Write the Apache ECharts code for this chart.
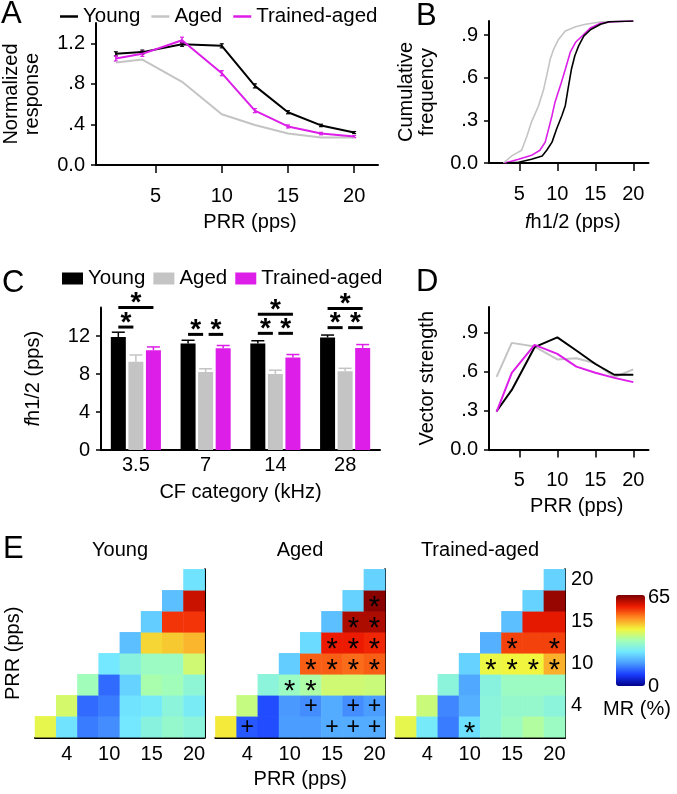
<!DOCTYPE html>
<html><head><meta charset="utf-8">
<script src="https://cdn.jsdelivr.net/npm/echarts@6/dist/echarts.min.js"></script>
<style>html,body{margin:0;padding:0;background:#fff}#c{width:677px;height:794px}</style>
</head><body><div id="c"></div><script>
// ---------------- DATA ----------------
const PRR = [2, 4, 7, 10, 12.5, 15, 17.5, 20];
const PRR_LABELS = ['2', '4', '7', '10', '12.5', '15', '17.5', '20'];
const PRR_TICKS = [5, 10, 15, 20];
const HM_TICKS = ['4', '10', '15', '20'];
const GROUPS = ['Young', 'Aged', 'Trained-aged'];

// Panel A: normalized response
const youngA   = [1.096, 1.113, 1.19, 1.175, 0.78, 0.52, 0.39, 0.32];
const agedA    = [1.01, 1.04, 0.82, 0.50, 0.395, 0.31, 0.27, 0.27];
const trainedA = [1.05, 1.096, 1.23, 0.905, 0.536, 0.38, 0.31, 0.28];
const youngErrA   = [0.02, 0.02, 0.02, 0.02, 0.02, 0.015, 0.012, 0.01];
const trainedErrA = [0.025, 0.025, 0.03, 0.025, 0.02, 0.015, 0.012, 0.01];
const A_YTICKS = [0, 0.4, 0.8, 1.2];

// Panel B: cumulative frequency of fh1/2
const youngBx   = [3.3, 4.9, 6.6, 8.0, 8.6, 9.3, 9.9, 10.6, 11.05, 11.4, 11.85, 12.3, 12.8, 13.5, 14.4, 15.7, 16.8, 20];
const youngBy   = [0, 0.005, 0.026, 0.05, 0.09, 0.147, 0.24, 0.335, 0.405, 0.52, 0.66, 0.755, 0.825, 0.895, 0.94, 0.977, 0.995, 1.0];
const agedBx    = [2.9, 4.0, 5.3, 6.0, 6.6, 7.5, 8.2, 8.6, 9.05, 9.5, 10.15, 11.05, 12.4, 13.7, 15.9, 20];
const agedBy    = [0, 0.05, 0.09, 0.19, 0.29, 0.40, 0.52, 0.615, 0.73, 0.80, 0.87, 0.93, 0.96, 0.977, 0.995, 1.0];
const trainedBx = [3.1, 4.9, 6.6, 7.7, 8.4, 8.85, 9.3, 9.7, 10.4, 11.05, 11.7, 12.4, 13.5, 14.4, 15.7, 17.2, 20];
const trainedBy = [0, 0.026, 0.054, 0.09, 0.147, 0.24, 0.335, 0.43, 0.545, 0.66, 0.78, 0.85, 0.907, 0.953, 0.984, 0.995, 1.0];
const FREQ_TICKS = [0, 0.3, 0.6, 0.9];

// Panel C: fh1/2 by CF category
const CF_CATS = ['3.5', '7', '14', '28'];
const youngC   = [11.9, 11.2, 11.2, 11.85];
const agedC    = [9.3, 8.2, 8.0, 8.3];
const trainedC = [10.5, 10.7, 9.75, 10.75];
const youngErrC   = [0.5, 0.35, 0.3, 0.25];
const agedErrC    = [0.7, 0.35, 0.4, 0.3];
const trainedErrC = [0.35, 0.3, 0.3, 0.35];
const C_YTICKS = [0, 4, 8, 12];
// significance bars: category, from-group, to-group, height (pps)
const sigCat  = [0, 0, 1, 1, 2, 2, 2, 3, 3, 3];
const sigFrom = [0, 0, 0, 1, 0, 0, 1, 0, 0, 1];
const sigTo   = [1, 2, 1, 2, 2, 1, 2, 2, 1, 2];
const sigY    = [12.94, 15.0, 12.17, 12.17, 14.29, 12.28, 12.28, 14.89, 12.88, 12.88];

// Panel D: vector strength
const youngD   = [0.295, 0.46, 0.79, 0.866, 0.764, 0.66, 0.577, 0.577];
const agedD    = [0.56, 0.823, 0.795, 0.695, 0.705, 0.666, 0.558, 0.618];
const trainedD = [0.29, 0.592, 0.808, 0.738, 0.64, 0.592, 0.553, 0.52];

// Panel E: MR (%) matrices, rows = PRR 2..20 (bottom to top), cols = PRR 2..20
const mrYoung = [
  [39.5, 24, 13.5, 15, 24.5, 28, 30, 28.5],
  [null, 37.5, 12, 13.5, 24, 25, 28.5, 25.5],
  [null, null, 32, 12, 22, 33, 32, 29],
  [null, null, null, 24.5, 28, 31, 31, 37],
  [null, null, null, null, 20, 43, 44, 45.5],
  [null, null, null, null, null, 21.5, 55, 55],
  [null, null, null, null, null, null, 20, 59.5],
  [null, null, null, null, null, null, null, 24]
];
const mrAged = [
  [41.5, 10.5, 9.5, 16.5, 16.5, 18, 18, 18],
  [null, 36, 9.5, 16, 15, 18, 15, 16.5],
  [null, null, 28.5, 31, 33.5, 37, 37, 36.5],
  [null, null, null, 21.5, 52, 52, 51, 52],
  [null, null, null, null, 23, 57, 57, 56],
  [null, null, null, null, null, 20, 61.5, 61.5],
  [null, null, null, null, null, null, 22, 64],
  [null, null, null, null, null, null, null, 22]
];
const mrTrained = [
  [39.5, 25, 13.5, 23.5, 28.5, 31, 34, 31],
  [null, 36.5, 14.5, 18.5, 28.5, 30, 30, 28.5],
  [null, null, 28.5, 17.5, 28, 31, 31, 31],
  [null, null, null, 22, 40, 40.5, 40.5, 46],
  [null, null, null, null, 18.5, 54, 54, 54],
  [null, null, null, null, null, 20, 57.5, 57.5],
  [null, null, null, null, null, null, 22, 63],
  [null, null, null, null, null, null, null, 22]
];
const marksYoung = ['........', '........', '........', '........', '........', '........', '........', '........'];
const marksAged = ['.+...+++', '....+.++', '...**...', '....****', '.....***', '......**', '.......*', '........'];
const marksTrained = ['...*....', '........', '........', '....****', '.....*.*', '........', '........', '........'];
const MR_MIN = 0, MR_MAX = 65;

// ---------------- STYLE ----------------
const FONT = '"Liberation Sans", Arial, Helvetica, sans-serif';
const FS = 20;
const COL = { 'Young': '#000000', 'Aged': '#c4c4c4', 'Trained-aged': '#dc1ee8' };
const JET = ['#00008a', '#1a3cff', '#4a9cff', '#72e8ff', '#a4ffb6', '#f2f53c', '#ff8c22', '#ee1a00', '#7a0000'];
const BAR_W = 15, BAR_GAP = 0.17;
const OFF = [-1, 0, 1].map(k => k * BAR_W * (1 + BAR_GAP));

function fmtDot(v) {
  if (v === 0) return '0.0';
  const s = (+v.toFixed(1)).toFixed(1);
  return s.startsWith('0') ? s.slice(1) : s;
}
function axLine() { return { show: true, lineStyle: { color: '#000', width: 2 } }; }
function nameStyle(extra) { return Object.assign({ color: '#000', fontSize: FS, fontFamily: FONT }, extra || {}); }
const fhRich = { i: { fontStyle: 'italic', fontSize: FS, fontFamily: FONT, color: '#000' }, n: { fontSize: FS, fontFamily: FONT, color: '#000' } };

function prrXAxis(grid, min, max, name, gap, pad, rich) {
  return {
    gridIndex: grid, type: 'value', min: min, max: max,
    axisLine: axLine(),
    axisTick: { show: true, customValues: PRR_TICKS, length: 8, lineStyle: { color: '#000', width: 1.5 } },
    axisLabel: { customValues: PRR_TICKS, margin: 21, color: '#000', fontSize: FS, fontFamily: FONT },
    splitLine: { show: false },
    name: name, nameLocation: 'middle', nameGap: gap,
    nameTextStyle: nameStyle({ padding: [0, 0, 0, pad], rich: rich })
  };
}
function valYAxis(grid, max, ticks, fmt, name, gap, rich) {
  return {
    gridIndex: grid, type: 'value', min: 0, max: max,
    axisLine: axLine(),
    axisTick: { show: true, customValues: ticks, length: 5, lineStyle: { color: '#000', width: 1.5 } },
    axisLabel: { customValues: ticks, formatter: fmt, margin: 11, color: '#000', fontSize: FS, fontFamily: FONT },
    splitLine: { show: false },
    name: name, nameLocation: 'middle', nameGap: gap, nameRotate: 90,
    nameTextStyle: nameStyle({ lineHeight: 21, rich: rich })
  };
}

// ---------------- GRIDS ----------------
const grids = [
  { left: 96, top: 23, width: 282, height: 142 },     // A
  { left: 489, top: 21, width: 159.5, height: 142 },  // B
  { left: 101, top: 307.5, width: 279, height: 142.5 }, // C
  { left: 489, top: 307, width: 159.5, height: 142.5 }, // D
  { left: 35, top: 569.3, width: 169.7, height: 168 },  // E young
  { left: 215.4, top: 569.3, width: 169.7, height: 168 }, // E aged
  { left: 395.4, top: 569.3, width: 169.7, height: 168 }  // E trained
];

const xAxes = [
  prrXAxis(0, 0.5, 21.8, 'PRR (pps)', 47, 26),
  prrXAxis(1, 1, 22, '{i|f}{n|h1/2 (pps)}', 49, 8, fhRich),
  {
    gridIndex: 2, type: 'category', data: CF_CATS,
    axisLine: axLine(), axisTick: { show: false },
    axisLabel: { margin: 5, color: '#000', fontSize: FS, fontFamily: FONT },
    name: 'CF category (kHz)', nameLocation: 'middle', nameGap: 32, nameTextStyle: nameStyle()
  },
  prrXAxis(3, 1, 22, 'PRR (pps)', 47, 16)
];
const yAxes = [
  valYAxis(0, 1.4, A_YTICKS, fmtDot, 'Normalized\nresponse', 53),
  valYAxis(1, 1.0, FREQ_TICKS, fmtDot, 'Cumulative\nfrequency', 51),
  valYAxis(2, 15, C_YTICKS, v => String(v), '{i|f}{n|h1/2 (pps)}', 57, fhRich),
  valYAxis(3, 1.1, FREQ_TICKS, fmtDot, 'Vector strength', 51)
];
[4, 5, 6].forEach(g => {
  xAxes.push({
    gridIndex: g, type: 'category', data: PRR_LABELS,
    axisLine: axLine(), axisTick: { show: false },
    axisLabel: { interval: (i, v) => HM_TICKS.includes(v), margin: 7, color: '#000', fontSize: FS, fontFamily: FONT },
    splitLine: { show: false },
    name: g === 5 ? 'PRR (pps)' : '', nameLocation: 'middle', nameGap: 32, nameTextStyle: nameStyle()
  });
  yAxes.push({
    gridIndex: g, type: 'category', data: PRR_LABELS, position: 'right',
    axisLine: axLine(), axisTick: { show: false },
    axisLabel: { show: g === 6, interval: (i, v) => HM_TICKS.includes(v), margin: 6, color: '#000', fontSize: FS, fontFamily: FONT },
    splitLine: { show: false }
  });
});
// left axis name for heatmap block
yAxes.push({
  gridIndex: 4, type: 'category', data: PRR_LABELS, position: 'left',
  axisLine: { show: false }, axisTick: { show: false }, axisLabel: { show: false },
  name: 'PRR (pps)', nameLocation: 'middle', nameGap: 12, nameRotate: 90, nameTextStyle: nameStyle()
});

// ---------------- SERIES ----------------
const series = [];
// C bars first (legend icon source)
[youngC, agedC, trainedC].forEach((arr, k) => {
  series.push({
    name: GROUPS[k], type: 'bar', xAxisIndex: 2, yAxisIndex: 2,
    barWidth: BAR_W, barGap: (BAR_GAP * 100) + '%',
    itemStyle: { color: COL[GROUPS[k]] }, data: arr, silent: true
  });
});
// C error bars
[[youngC, youngErrC], [agedC, agedErrC], [trainedC, trainedErrC]].forEach((pair, k) => {
  const c = COL[GROUPS[k]];
  series.push({
    type: 'custom', xAxisIndex: 2, yAxisIndex: 2, silent: true, z: 3,
    data: pair[0].map((v, i) => [i, v, pair[1][i]]),
    renderItem: (params, api) => {
      const ci = api.value(0), v = api.value(1), e = api.value(2);
      const b = api.coord([ci, v]), t = api.coord([ci, v + e]);
      const x = b[0] + OFF[k];
      return { type: 'group', children: [
        { type: 'line', shape: { x1: x, y1: b[1], x2: x, y2: t[1] }, style: { stroke: c, lineWidth: 1.5 } },
        { type: 'line', shape: { x1: x - 6.5, y1: t[1], x2: x + 6.5, y2: t[1] }, style: { stroke: c, lineWidth: 1.5 } }
      ] };
    }
  });
});
// C significance bars
series.push({
  type: 'custom', xAxisIndex: 2, yAxisIndex: 2, silent: true, z: 4, clip: false,
  data: sigCat.map((c, i) => [c, sigFrom[i], sigTo[i], sigY[i]]),
  renderItem: (params, api) => {
    const ci = api.value(0), f = api.value(1), t = api.value(2), y = api.value(3);
    const p = api.coord([ci, y]);
    const adj = (t - f) === 1;
    const x1 = p[0] + OFF[f] + (adj && f === 1 ? 3 : 0);
    const x2 = p[0] + OFF[t] - (adj && t === 1 ? 2.5 : 0);
    return { type: 'group', children: [
      { type: 'line', shape: { x1: x1, y1: p[1], x2: x2, y2: p[1] }, style: { stroke: '#000', lineWidth: 3 } },
      { type: 'text', x: (x1 + x2) / 2, y: p[1] - 4, style: { text: '*', fill: '#000', fontSize: 28, fontWeight: 'bold', fontFamily: FONT, align: 'center', verticalAlign: 'middle' } }
    ] };
  }
});
// A lines
[['Aged', agedA], ['Young', youngA], ['Trained-aged', trainedA]].forEach(([n, arr]) => {
  series.push({
    name: n, type: 'line', xAxisIndex: 0, yAxisIndex: 0, symbol: 'none', silent: true,
    color: COL[n], lineStyle: { color: COL[n], width: 2 },
    data: PRR.map((x, i) => [x, arr[i]])
  });
});
[['Young', youngA, youngErrA], ['Trained-aged', trainedA, trainedErrA]].forEach(([n, arr, err]) => {
  series.push({
    type: 'custom', xAxisIndex: 0, yAxisIndex: 0, silent: true, z: 3,
    data: PRR.map((x, i) => [x, arr[i], err[i]]),
    renderItem: (params, api) => {
      const x = api.value(0), v = api.value(1), e = api.value(2);
      const lo = api.coord([x, v - e]), hi = api.coord([x, v + e]);
      return { type: 'group', children: [
        { type: 'line', shape: { x1: lo[0], y1: lo[1], x2: hi[0], y2: hi[1] }, style: { stroke: COL[n], lineWidth: 1.5 } },
        { type: 'line', shape: { x1: lo[0] - 2, y1: lo[1], x2: lo[0] + 2, y2: lo[1] }, style: { stroke: COL[n], lineWidth: 1.2 } },
        { type: 'line', shape: { x1: hi[0] - 2, y1: hi[1], x2: hi[0] + 2, y2: hi[1] }, style: { stroke: COL[n], lineWidth: 1.2 } }
      ] };
    }
  });
});
// B lines
[['Aged', agedBx, agedBy], ['Trained-aged', trainedBx, trainedBy], ['Young', youngBx, youngBy]].forEach(([n, xs, ys]) => {
  series.push({
    name: n, type: 'line', xAxisIndex: 1, yAxisIndex: 1, symbol: 'none', silent: true,
    color: COL[n], lineStyle: { color: COL[n], width: 1.6 },
    data: xs.map((x, i) => [x, ys[i]])
  });
});
// D lines
[['Aged', agedD], ['Young', youngD], ['Trained-aged', trainedD]].forEach(([n, arr]) => {
  series.push({
    name: n, type: 'line', xAxisIndex: 3, yAxisIndex: 3, symbol: 'none', silent: true,
    color: COL[n], lineStyle: { color: COL[n], width: 2 },
    data: PRR.map((x, i) => [x, arr[i]])
  });
});
// E heatmaps
const hmIdx = [];
[[mrYoung, marksYoung], [mrAged, marksAged], [mrTrained, marksTrained]].forEach(([mr, mk], g) => {
  const data = [];
  mr.forEach((row, yi) => row.forEach((v, xi) => {
    if (v == null) return;
    const m = mk[yi][xi];
    data.push({ value: [xi, yi, v], label: { show: m !== '.', offset: m === '*' ? [0, 7] : [0, 1], fontSize: m === '*' ? 29 : 23 } });
  }));
  hmIdx.push(series.length);
  series.push({
    type: 'heatmap', xAxisIndex: 4 + g, yAxisIndex: 4 + g, silent: true,
    emphasis: { disabled: true },
    label: { show: false, color: '#000', fontFamily: FONT, formatter: p => mk[p.value[1]][p.value[0]] },
    data: data
  });
});

// ---------------- GRAPHIC TEXT ----------------
function txt(s, x, y, size, align, extra) {
  return { type: 'text', x: x, y: y, silent: true,
    style: Object.assign({ text: s, fill: '#000', fontSize: size, fontFamily: FONT, align: align || 'left', verticalAlign: 'middle' }, extra || {}) };
}
const graphics = [
  txt('A', 1, 14, 31), txt('B', 416, 16, 31), txt('C', 2, 283, 31), txt('D', 416, 282, 31), txt('E', 3, 549, 31),
  txt('Young', 120, 550, FS, 'center'), txt('Aged', 300, 550, FS, 'center'), txt('Trained-aged', 480, 550, FS, 'center'),
  txt('65', 648, 597, FS), txt('0', 648, 686, FS), txt('MR (%)', 637, 709, FS, 'center')
];

const option = {
  animation: false,
  backgroundColor: '#fff',
  textStyle: { fontFamily: FONT },
  grid: grids,
  xAxis: xAxes,
  yAxis: yAxes,
  legend: [
    { data: GROUPS, icon: 'rect', left: 55, top: 1, itemWidth: 18, itemHeight: 2.5, itemGap: 11, selectedMode: false,
      textStyle: { color: '#000', fontSize: 20.5, fontFamily: FONT } },
    { data: GROUPS, icon: 'rect', left: 57, top: 263, itemWidth: 21, itemHeight: 12, itemGap: 8, selectedMode: false,
      textStyle: { color: '#000', fontSize: 20.5, fontFamily: FONT } }
  ],
  visualMap: {
    type: 'continuous', min: MR_MIN, max: MR_MAX, seriesIndex: hmIdx, calculable: false,
    orient: 'vertical', left: 616, top: 595, itemWidth: 29, itemHeight: 91, padding: 0,
    inRange: { color: JET }, hoverLink: false, text: null
  },
  graphic: graphics,
  series: series
};
const chart = echarts.init(document.getElementById('c'), null, { renderer: 'canvas' });
chart.setOption(option);
</script></body></html>
